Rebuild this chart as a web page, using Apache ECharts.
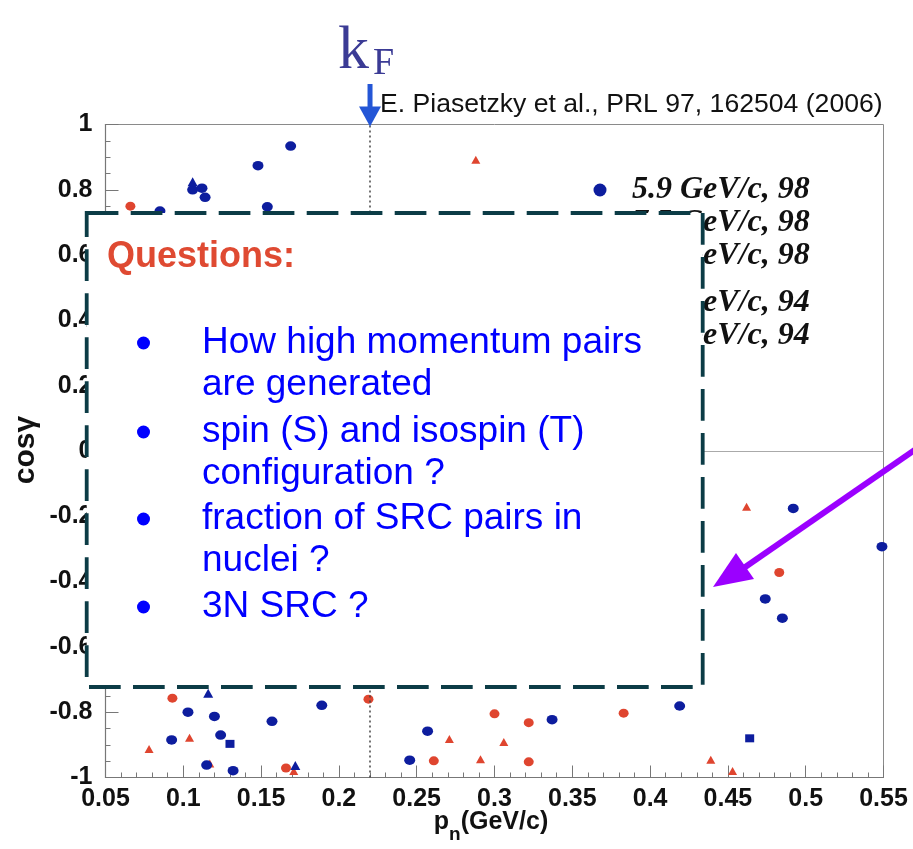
<!DOCTYPE html>
<html><head><meta charset="utf-8">
<script src="https://cdn.jsdelivr.net/npm/echarts@6/dist/echarts.min.js"></script>
<style>html,body{margin:0;padding:0;background:#fff}#c{width:913px;height:849px}</style>
</head><body><div id="c"></div>
<script>
// ---- data (p_n in GeV/c, cos gamma) ----
const seriesNames98 = ['5.9 GeV/c, 98', '7.5 GeV/c, 98', '9.0 GeV/c, 98'];
const seriesNames94 = ['5.9 GeV/c, 94', '7.5 GeV/c, 94'];
const blueCircles98 = [
  [0.085,0.735],[0.106,0.800],[0.112,0.805],[0.114,0.777],[0.148,0.874],[0.169,0.934],[0.154,0.748],
  [0.492,-0.176],[0.549,-0.293],[0.474,-0.453],[0.485,-0.512],[0.419,-0.781],
  [0.103,-0.800],[0.120,-0.813],[0.157,-0.828],[0.189,-0.779],[0.0925,-0.885],[0.124,-0.870],
  [0.115,-0.962],[0.132,-0.979],[0.257,-0.858],[0.2455,-0.947],[0.337,-0.823]
];
const blueTriangles98 = [[0.106,0.825],[0.116,-0.742],[0.172,-0.963]];
const blueSquares98 = [[0.130,-0.897],[0.464,-0.880]];
const redCircles94 = [
  [0.066,0.750],[0.093,-0.757],[0.219,-0.760],[0.166,-0.971],[0.300,-0.805],[0.322,-0.832],
  [0.383,-0.803],[0.261,-0.949],[0.322,-0.952],[0.483,-0.372]
];
const redTriangles94 = [
  [0.288,0.892],[0.104,-0.878],[0.078,-0.913],[0.117,-0.957],[0.171,-0.980],[0.271,-0.882],
  [0.306,-0.891],[0.291,-0.944],[0.462,-0.171],[0.439,-0.946],[0.453,-0.980]
];
const kF = 0.22;
const zeroLine = 0;
const xTickValues = [0.05,0.1,0.15,0.2,0.25,0.3,0.35,0.4,0.45,0.5,0.55];
const yTickValues = [-1,-0.8,-0.6,-0.4,-0.2,0,0.2,0.4,0.6,0.8,1];
const citation = 'E. Piasetzky et al., PRL 97, 162504 (2006)';
const questionTitle = 'Questions:';
const questionLines = [
  ['How high momentum pairs', 'are generated'],
  ['spin (S) and isospin (T)', 'configuration ?'],
  ['fraction of SRC pairs in', 'nuclei ?'],
  ['3N SRC ?']
];

const BLUE = '#0d1d9e', RED = '#df452f', SANS = 'Liberation Sans, Arial, sans-serif';
const chart = echarts.init(document.getElementById('c'));

function sc(name, data, symbol, size, color) {
  return { type: 'scatter', name, data, symbol, symbolSize: size,
    itemStyle: { color, opacity: 1 }, emphasis: { disabled: true }, z: 3 };
}
const legendText = { fontFamily: 'Liberation Serif, Times New Roman, serif', fontStyle: 'italic',
  fontWeight: 'bold', fontSize: 32, lineHeight: 33, color: '#111' };

chart.setOption({
  animation: false,
  backgroundColor: '#fff',
  grid: { left: 105.5, right: 29.5, top: 124.5, bottom: 71.5, show: true,
    borderColor: '#8a8a8a', borderWidth: 1, backgroundColor: 'transparent' },
  legend: [
    { orient: 'vertical', left: 573, top: 173.5, itemGap: 0, itemWidth: 54, itemHeight: 13,
      padding: 0, data: seriesNames98, textStyle: legendText, selectedMode: false },
    { orient: 'vertical', left: 573, top: 286.5, itemGap: 0, itemWidth: 54, itemHeight: 13,
      padding: 0, data: seriesNames94, textStyle: legendText, selectedMode: false }
  ],
  xAxis: {
    type: 'value', min: xTickValues[0], max: xTickValues[xTickValues.length-1], interval: 0.05,
    axisLine: { show: true, onZero: false, lineStyle: { color: '#777', width: 1.2 } },
    axisTick: { show: true, inside: true, length: 12, lineStyle: { color: '#777' } },
    minorTick: { show: true, splitNumber: 5, length: 5, lineStyle: { color: '#777' } },
    splitLine: { show: false },
    axisLabel: { margin: 9, fontFamily: SANS, fontWeight: 'bold', fontSize: 25, color: '#111',
      formatter: v => String(+v.toFixed(2)) }
  },
  yAxis: {
    type: 'value', min: yTickValues[0], max: yTickValues[yTickValues.length-1], interval: 0.2,
    axisLine: { show: true, onZero: false, lineStyle: { color: '#777', width: 1.2 } },
    axisTick: { show: true, inside: true, length: 13, lineStyle: { color: '#777' } },
    minorTick: { show: true, splitNumber: 4, length: 5, lineStyle: { color: '#777' } },
    splitLine: { show: false },
    axisLabel: { margin: 13, fontFamily: SANS, fontWeight: 'bold', fontSize: 25, color: '#111',
      formatter: v => String(+v.toFixed(1)) }
  },
  series: [
    Object.assign(sc(seriesNames94[0], redCircles94, 'circle', [10, 9], RED), {
      markLine: { silent: true, symbol: 'none', label: { show: false }, animation: false,
        data: [
          { yAxis: zeroLine, lineStyle: { color: '#aaa', type: 'solid', width: 1 } },
          { xAxis: kF, lineStyle: { color: '#444', type: [2, 3], width: 1.5 } }
        ] } }),
    sc(seriesNames94[1], redTriangles94, 'triangle', [9, 8], RED),
    sc(seriesNames98[0], blueCircles98, 'circle', [11, 9.5], BLUE),
    sc(seriesNames98[1], blueTriangles98, 'triangle', [10, 9], BLUE),
    sc(seriesNames98[2], blueSquares98, 'rect', [9, 8], BLUE)
  ]
});

// ---- annotations ----
const kx = chart.convertToPixel({ xAxisIndex: 0 }, kF);
const topY = chart.convertToPixel({ yAxisIndex: 0 }, 1);
const g = [];
// kF label
g.push({ type: 'text', x: kx - 32, y: 52, z: 50, style: { text: 'k', font: '62px Liberation Serif, serif',
  fill: '#3b3b95', align: 'left', verticalAlign: 'middle' } });
g.push({ type: 'text', x: kx + 3, y: 64, z: 50, style: { text: 'F', font: '38px Liberation Serif, serif',
  fill: '#3b3b95', align: 'left', verticalAlign: 'middle' } });
// blue arrow
g.push({ type: 'line', z: 50, shape: { x1: kx, y1: 84, x2: kx, y2: topY - 14 },
  style: { stroke: '#2456d6', lineWidth: 5 } });
g.push({ type: 'polygon', z: 50, shape: { points: [[kx - 11, topY - 18], [kx + 11, topY - 18], [kx, topY + 2]] },
  style: { fill: '#2456d6' } });
// citation
g.push({ type: 'text', x: 380, y: 105, z: 50, style: { text: citation, font: '26.6px ' + SANS,
  fill: '#111', align: 'left', verticalAlign: 'middle' } });
// axis titles
g.push({ type: 'text', x: 26, y: 450, rotation: Math.PI / 2, z: 50, style: { text: 'cosγ',
  font: 'bold 30px ' + SANS, fill: '#111', align: 'center', verticalAlign: 'middle' } });
g.push({ type: 'text', x: 491, y: 827, z: 50, style: {
  text: '{p|p}{n|n}{r|(GeV/c)}', align: 'center', verticalAlign: 'middle',
  rich: {
    p: { font: 'bold 25px ' + SANS, fill: '#111', lineHeight: 34, verticalAlign: 'top' },
    n: { font: 'bold 19px ' + SANS, fill: '#111', lineHeight: 20, verticalAlign: 'bottom' },
    r: { font: 'bold 25px ' + SANS, fill: '#111', lineHeight: 34, verticalAlign: 'top' }
  } } });
// questions box
g.push({ type: 'rect', z: 60, shape: { x: 86.7, y: 213, width: 616, height: 474 },
  style: { fill: '#fff', stroke: '#0c3c46', lineWidth: 3.8, lineDash: [31.7, 12.3] } });
g.push({ type: 'text', x: 107, y: 257, z: 61, style: { text: questionTitle, font: 'bold 36px ' + SANS,
  fill: '#df4a32', align: 'left', verticalAlign: 'middle' } });
const blockY = [343, 432, 519, 607];
questionLines.forEach((lines, i) => {
  g.push({ type: 'circle', z: 61, shape: { cx: 143.5, cy: blockY[i], r: 6.5 }, style: { fill: '#0000ff' } });
  lines.forEach((t, j) => {
    g.push({ type: 'text', x: 202, y: blockY[i] + j * 42, z: 61, style: { text: t, font: '37px ' + SANS,
      fill: '#0000ff', align: 'left', verticalAlign: 'middle' } });
  });
});
// purple arrow
g.push({ type: 'line', z: 62, shape: { x1: 916, y1: 449, x2: 738, y2: 572 },
  style: { stroke: '#9b00ff', lineWidth: 6 } });
g.push({ type: 'polygon', z: 62, shape: { points: [[713, 587], [736, 553], [754, 579]] },
  style: { fill: '#9b00ff' } });
chart.setOption({ graphic: g });
</script></body></html>
